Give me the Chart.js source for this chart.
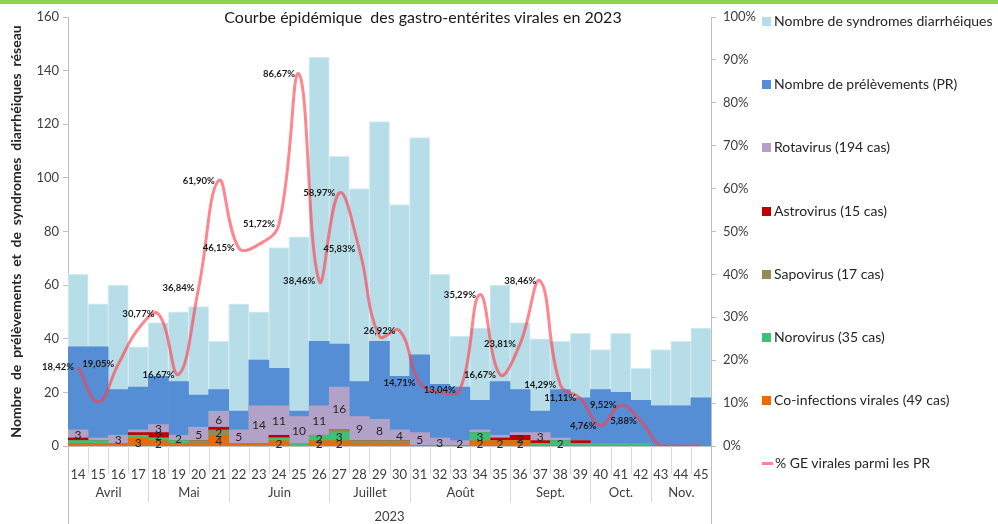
<!DOCTYPE html>
<html>
<head>
<meta charset="utf-8">
<script src="https://cdn.jsdelivr.net/npm/chart.js@4.4.1/dist/chart.umd.min.js"></script>
<style>
html,body{margin:0;padding:0;background:#fff;}
#wrap{position:relative;width:998px;height:524px;overflow:hidden;background:#fff;}
#topbar{position:absolute;left:0;top:0;width:998px;height:4px;background:#92d050;}
#c{position:absolute;left:0;top:0;}
#title{position:absolute;top:7px;left:68px;width:710px;text-align:center;font:16px Lato, sans-serif;color:#1a1a1a;white-space:pre;}
.lg{position:absolute;left:762px;font:14px Lato, sans-serif;color:#262626;white-space:nowrap;}
.lg .sw{display:inline-block;width:9px;height:9px;margin-right:3px;vertical-align:middle;position:relative;top:-1px;}
.lg .ln{display:inline-block;width:11px;height:3px;margin-right:2px;vertical-align:middle;position:relative;top:-1px;}
</style>
</head>
<body>
<div id="wrap">
  <canvas id="c" width="998" height="524"></canvas>
  <div id="topbar"></div>
  <div id="title">Courbe épidémique  des gastro-entérites virales en 2023</div>
  <div id="legend"></div>
</div>
<script>
// ---------- DATA ----------
const weeks = ['14','15','16','17','18','19','20','21','22','23','24','25','26','27','28','29','30','31','32','33','34','35','36','37','38','39','40','41','42','43','44','45'];
const months = ['Avril','Mai','Juin','Juillet','Août','Sept.','Oct.','Nov.'];
const monthWeekCount = [4,4,5,4,5,4,3,3];
const yearLabel = '2023';

const syndromes    = [64,53,60,37,46,50,52,39,53,50,74,78,145,108,96,121,90,115,64,41,44,60,46,40,39,42,36,42,29,36,39,44];
const prelevements = [37,37,21,22,26,24,19,21,13,32,29,13,39,38,24,39,26,34,23,22,17,24,21,13,21,18,21,20,17,15,15,18];
const coinfections = [1,1,1,3,2,1,1,4,1,1,2,0,2,2,1,1,1,0,0,0,2,2,2,0,0,0,0,0,0,0,0,0];
const norovirus    = [1,1,0,1,1,1,0,0,0,0,1,1,2,3,0,0,0,0,0,0,3,0,0,1,2,1,1,1,1,0,0,0];
const sapovirus    = [0,0,0,0,0,0,1,2,0,0,0,0,0,1,1,1,1,0,0,0,0,0,0,0,0,0,0,0,0,0,0,0];
const astrovirus   = [1,0,0,1,2,0,0,1,0,0,1,0,0,0,0,0,0,0,0,0,0,1,2,1,0,1,0,0,0,0,0,0];
const rotavirus    = [3,1,3,1,3,2,5,6,5,14,11,10,11,16,9,8,4,5,3,2,1,1,1,3,1,0,0,0,0,0,0,0];
const pctGE        = [18.42,10.3,19.05,27.3,30.77,16.67,36.84,61.90,46.15,47.0,51.72,86.67,38.46,58.97,45.83,25.6,26.92,14.71,12.5,13.04,35.29,16.67,23.81,38.46,14.29,11.11,4.76,9.52,5.88,0,0,0];
const pctLabels    = ['18,42%','','19,05%','','30,77%','16,67%','36,84%','61,90%','46,15%','','51,72%','86,67%','38,46%','58,97%','45,83%','','26,92%','14,71%','','13,04%','35,29%','16,67%','23,81%','38,46%','14,29%','11,11%','4,76%','9,52%','5,88%','','',''];
const leftTicks  = [0,20,40,60,80,100,120,140,160];
const rightTicks = [0,10,20,30,40,50,60,70,80,90,100];

const seriesNames = {
  syn:'Nombre de syndromes diarrhéiques',
  pr:'Nombre de prélèvements (PR)',
  rota:'Rotavirus (194 cas)',
  astro:'Astrovirus (15 cas)',
  sapo:'Sapovirus (17 cas)',
  noro:'Norovirus (35 cas)',
  coinf:'Co-infections virales (49 cas)',
  pct:'% GE virales parmi les PR'
};
const legendOrder = ['syn','pr','rota','astro','sapo','noro','coinf','pct'];

// ---------- CHART ----------
Chart.defaults.font.family = 'Lato, sans-serif';
Chart.defaults.color = '#404040';

const barCommon = {yAxisID:'y', grouped:false, barPercentage:1, categoryPercentage:1, borderWidth:0};
function virus(key, data, color, order){
  return Object.assign({key, kind:'virus', label:seriesNames[key], data, backgroundColor:color, stack:'v', order}, barCommon);
}

const datasets = [
  {key:'pct', kind:'pct', type:'line', label:seriesNames.pct, data:pctGE, yAxisID:'y1', order:0,
   borderColor:'rgba(255,60,72,0.62)', backgroundColor:'rgba(255,60,72,0.62)', borderWidth:3,
   pointRadius:0, tension:0.42, fill:false},
  virus('coinf', coinfections, '#e46c0a', 2),
  virus('noro', norovirus, '#3dc07a', 3),
  virus('sapo', sapovirus, '#948a54', 4),
  virus('astro', astrovirus, '#c00000', 5),
  virus('rota', rotavirus, '#b3a2c7', 6),
  Object.assign({key:'pr', kind:'bar', label:seriesNames.pr, data:prelevements, backgroundColor:'#558ed5', stack:'p', order:7}, barCommon),
  Object.assign({key:'syn', kind:'bar', label:seriesNames.syn, data:syndromes, backgroundColor:'#b7dde8', stack:'s', order:8}, barCommon,
   {borderWidth:{left:1,right:1,top:1,bottom:0}, borderColor:'#d4ebf2'})
];

const labelPlugin = {
  id:'valueLabels',
  afterDatasetsDraw(chart){
    const ctx = chart.ctx;
    ctx.save();
    chart.data.datasets.forEach((ds, di) => {
      const meta = chart.getDatasetMeta(di);
      if (ds.kind === 'virus') {
        ctx.font = '12px Lato, sans-serif';
        ctx.fillStyle = '#262626';
        ctx.textAlign = 'center';
        ctx.textBaseline = 'middle';
        meta.data.forEach((el, i) => {
          const v = ds.data[i];
          if (v >= 2) ctx.fillText(String(v), el.x, (el.y + el.base) / 2 + 1);
        });
      } else if (ds.kind === 'pct') {
        ctx.font = 'bold 9.5px Lato, sans-serif';
        ctx.fillStyle = '#1a1a1a';
        ctx.textAlign = 'right';
        ctx.textBaseline = 'middle';
        meta.data.forEach((el, i) => {
          const t = pctLabels[i];
          if (t) ctx.fillText(t, el.x - 4, el.y);
        });
      }
    });
    ctx.restore();
  }
};

const axisDecor = {
  id:'axisDecor',
  afterDraw(chart){
    const {ctx, chartArea:a, scales:{x}} = chart;
    const H = chart.height;
    const step = x.getPixelForValue(1) - x.getPixelForValue(0);
    const edge = i => Math.round(x.getPixelForValue(i) - step / 2) + 0.5;
    ctx.save();
    ctx.lineWidth = 1;
    ctx.strokeStyle = '#d9d9d9';
    for (let i = 1; i < weeks.length; i++) {
      ctx.beginPath(); ctx.moveTo(edge(i), a.bottom); ctx.lineTo(edge(i), a.bottom + 28); ctx.stroke();
    }
    ctx.font = '13px Lato, sans-serif';
    ctx.fillStyle = '#404040';
    ctx.textAlign = 'center';
    ctx.textBaseline = 'middle';
    let idx = 0;
    months.forEach((m, k) => {
      const s = idx; idx += monthWeekCount[k];
      const x0 = edge(s), x1 = edge(idx);
      if (s > 0) { ctx.beginPath(); ctx.moveTo(x0, a.bottom); ctx.lineTo(x0, a.bottom + 56); ctx.stroke(); }
      ctx.fillText(m, (x0 + x1) / 2, a.bottom + 47);
    });
    ctx.fillText(yearLabel, (a.left + a.right) / 2, a.bottom + 71);
    ctx.strokeStyle = '#bfbfbf';
    [Math.round(a.left) + 0.5, Math.round(a.right) + 0.5].forEach(px => {
      ctx.beginPath(); ctx.moveTo(px, a.bottom); ctx.lineTo(px, H); ctx.stroke();
    });
    ctx.restore();
  }
};

const chart = new Chart(document.getElementById('c'), {
  type:'bar',
  data:{labels:weeks, datasets},
  options:{
    responsive:false,
    animation:false,
    layout:{padding:{top:17, left:0, right:0, bottom:0}},
    plugins:{legend:{display:false}, tooltip:{enabled:false}, title:{display:false}},
    scales:{
      x:{
        stacked:true, offset:true,
        grid:{display:false},
        border:{display:true, color:'#bfbfbf'},
        ticks:{font:{size:13}, color:'#404040', padding:13, maxRotation:0, autoSkip:false},
        afterFit(s){ s.height = 78; }
      },
      y:{
        position:'left', stacked:true, min:0, max:160,
        afterBuildTicks(s){ s.ticks = leftTicks.map(v => ({value:v})); },
        grid:{drawOnChartArea:false, tickLength:5, color:'#bfbfbf'},
        border:{display:true, color:'#bfbfbf'},
        ticks:{font:{size:13}, color:'#404040', padding:4},
        title:{display:true, text:'Nombre  de  prélèvements  et  de  syndromes  diarrhéiques  réseau',
               font:{size:14, weight:'bold'}, color:'#262626', padding:{top:8, bottom:0}},
        afterFit(s){ s.width = 68; }
      },
      y1:{
        position:'right', min:0, max:100,
        afterBuildTicks(s){ s.ticks = rightTicks.map(v => ({value:v})); },
        grid:{drawOnChartArea:false, tickLength:5, color:'#bfbfbf'},
        border:{display:true, color:'#bfbfbf'},
        ticks:{font:{size:13}, color:'#404040', padding:7, callback:v => v + '%'},
        afterFit(s){ s.width = 287; }
      }
    }
  },
  plugins:[labelPlugin, axisDecor]
});

// ---------- LEGEND (HTML, from datasets) ----------
const lg = document.getElementById('legend');
legendOrder.forEach((key, i) => {
  const ds = chart.data.datasets.find(d => d.key === key);
  const div = document.createElement('div');
  div.className = 'lg';
  div.style.top = (12 + i * 63.2) + 'px';
  const mark = document.createElement('span');
  mark.className = ds.kind === 'pct' ? 'ln' : 'sw';
  mark.style.background = ds.kind === 'pct' ? 'rgba(255,60,72,0.62)' : ds.backgroundColor;
  div.appendChild(mark);
  div.appendChild(document.createTextNode(ds.label));
  lg.appendChild(div);
});
</script>
</body>
</html>
